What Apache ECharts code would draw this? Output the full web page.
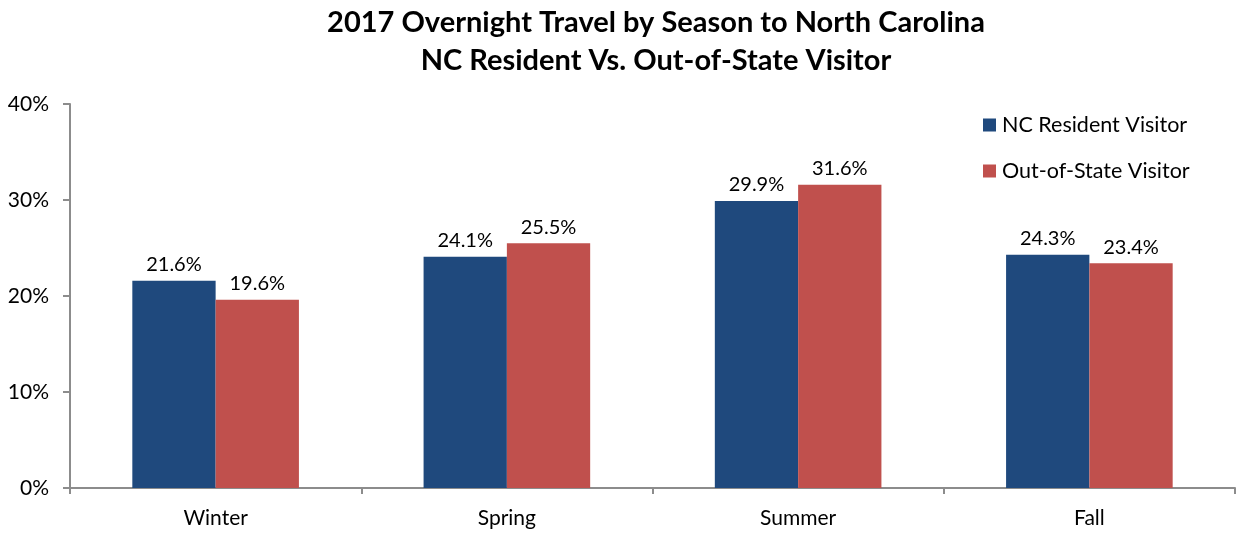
<!DOCTYPE html>
<html>
<head>
<meta charset="utf-8">
<script src="https://cdn.jsdelivr.net/npm/echarts@6/dist/echarts.min.js"></script>
<style>html,body{margin:0;padding:0;background:#fff}#c{width:1237px;height:533px}</style>
</head>
<body>
<div id="c"></div>
<script>
const categories = ['Winter', 'Spring', 'Summer', 'Fall'];
const ncResident = [21.6, 24.1, 29.9, 24.3];
const outOfState = [19.6, 25.5, 31.6, 23.4];
const yTicks = [0, 10, 20, 30, 40];

const FONT = 'Lato';
const chart = echarts.init(document.getElementById('c'), null, {renderer: 'canvas'});
const axisColor = '#8c8c8c';
chart.setOption({
  animation: false,
  backgroundColor: '#fff',
  title: {
    text: '2017 Overnight Travel by Season to North Carolina\nNC Resident Vs. Out-of-State Visitor',
    left: 651, top: -1, textAlign: 'center',
    textStyle: {fontFamily: FONT, fontWeight: 'bold', fontSize: 29, lineHeight: 38, color: '#000'}
  },
  legend: {
    orient: 'vertical', left: 978, top: 109,
    itemWidth: 13, itemHeight: 13, itemGap: 24, icon: 'rect',
    textStyle: {fontFamily: FONT, fontSize: 21.5, color: '#000', padding: [0,0,0,1]},
    data: ['NC Resident Visitor', 'Out-of-State Visitor']
  },
  grid: {left: 70, right: 2, top: 104, bottom: 45, containLabel: false},
  xAxis: {
    type: 'category', data: categories,
    axisLine: {lineStyle: {color: axisColor, width: 2}},
    axisTick: {show: true, length: 6, lineStyle: {color: axisColor, width: 2}},
    axisLabel: {fontFamily: FONT, fontSize: 21, color: '#000', margin: 20}
  },
  yAxis: {
    type: 'value', min: yTicks[0], max: yTicks[yTicks.length - 1], interval: 10,
    splitLine: {show: false},
    axisLine: {show: true, lineStyle: {color: axisColor, width: 2}},
    axisTick: {show: true, length: 7, lineStyle: {color: axisColor, width: 2}},
    axisLabel: {fontFamily: FONT, fontSize: 21, color: '#000', margin: 21, formatter: v => v + '%'}
  },
  series: [
    {
      name: 'NC Resident Visitor', type: 'bar', data: ncResident,
      barGap: '0%', barCategoryGap: '42.8%',
      itemStyle: {color: '#1f497d'},
      label: {show: true, position: 'top', distance: 6, fontFamily: FONT, fontSize: 20, color: '#000', formatter: p => p.value.toFixed(1) + '%'}
    },
    {
      name: 'Out-of-State Visitor', type: 'bar', data: outOfState,
      itemStyle: {color: '#c0504d'},
      label: {show: true, position: 'top', distance: 6, fontFamily: FONT, fontSize: 20, color: '#000', formatter: p => p.value.toFixed(1) + '%'}
    }
  ]
});
</script>
</body>
</html>
